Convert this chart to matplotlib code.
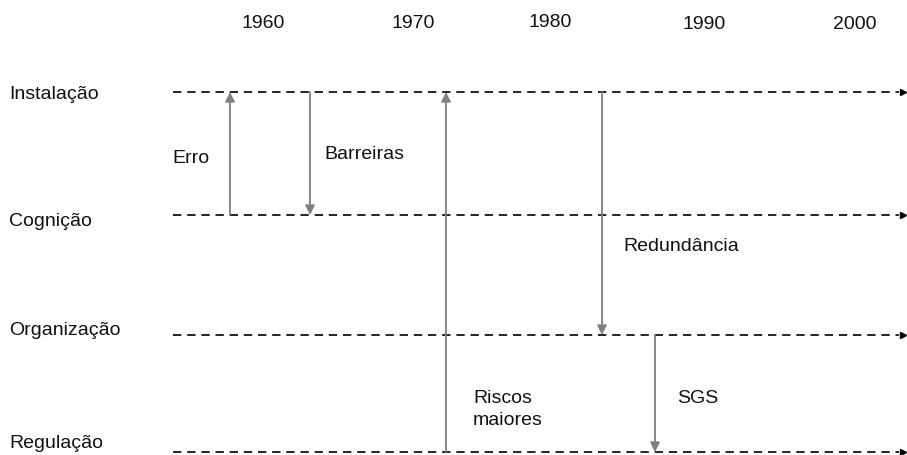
"""
Timeline diagram: safety paradigms across levels, 1960-2000.
"""
from matplotlib import pyplot as plt

# decade labels along the top, with their horizontal positions (pixels)
years = ['1960', '1970', '1980', '1990', '2000']
year_x = [263, 413, 550, 704, 855]
year_base = [28, 28, 27, 29, 29]

# levels (horizontal dashed lines)
levels = ['Instalação', 'Cognição', 'Organização', 'Regulação']
level_y = [93, 216, 336, 453]
level_label_base = [99, 226, 335, 448]

# events: arrow between two levels at a given position
events = ['Erro', 'Barreiras', 'Riscos\nmaiores', 'Redundância', 'SGS']
event_x = [230, 310, 446, 602, 655]
event_from = [1, 0, 3, 0, 2]   # level index where the arrow starts
event_to = [0, 1, 0, 2, 3]     # level index where the arrow points
event_label_x = [172, 324, 473, 623, 677]
event_label_base = [163, 159, 403, 251, 403]

W, H = 907, 456
plt.rcParams['font.family'] = ['Liberation Sans', 'DejaVu Sans']
fig = plt.figure(figsize=(W / 100, H / 100), dpi=100)
ax = fig.add_axes([0, 0, 1, 1])
ax.set_xlim(0, W)
ax.set_ylim(H, 0)
ax.axis('off')

FS = 14

for yr, x, b in zip(years, year_x, year_base):
    ax.text(x, b, yr, ha='center', va='baseline', fontsize=FS, color='#111111')

# level lines with arrow heads at the right
x_start, x_end = 173, 903
for name, y, b in zip(levels, level_y, level_label_base):
    ax.plot([x_start, x_end - 4], [y, y], color='black', lw=1.2,
            linestyle=(0, (5, 3.5)))
    ax.plot([x_end], [y], marker='>', color='black', markersize=5, lw=0)
    ax.text(9, b, name, ha='left', va='baseline', fontsize=FS, color='#111111')

# event arrows
for name, x, f, t, lx, lb in zip(events, event_x, event_from, event_to,
                                 event_label_x, event_label_base):
    ax.annotate('', xy=(x, level_y[t]), xytext=(x, level_y[f]),
                arrowprops=dict(arrowstyle='-|>', color='#7f7f7f', lw=1.3,
                                mutation_scale=14, shrinkA=0, shrinkB=0))
    if '\n' in name:
        lines = name.split('\n')
        for i, ln in enumerate(lines):
            ax.text(lx, lb + 22 * i, ln, ha='left', va='baseline',
                    fontsize=FS, color='#111111')
    else:
        ax.text(lx, lb, name, ha='left', va='baseline', fontsize=FS,
                color='#111111')

fig.savefig('out.png', dpi=100)
